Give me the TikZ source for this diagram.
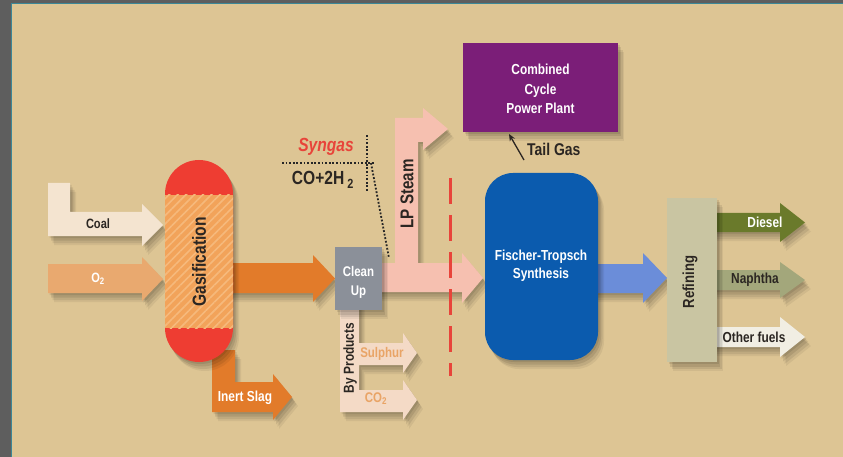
\documentclass[tikz,border=0pt]{standalone}
\usepackage{fontspec}
\setmainfont[FakeStretch=0.82]{Liberation Sans}
\usetikzlibrary{patterns.meta,arrows.meta}
\definecolor{bg}{HTML}{DDC594}
\definecolor{framegray}{HTML}{5E5E5E}
\definecolor{frameteal}{HTML}{3C8796}
\definecolor{coalc}{HTML}{F4E4D0}
\definecolor{oxc}{HTML}{E9A96F}
\definecolor{orangec}{HTML}{E27B2A}
\definecolor{redc}{HTML}{EE3D32}
\definecolor{gasorange}{HTML}{F2A35A}
\definecolor{gasstripe}{HTML}{F6B97C}
\definecolor{cleangray}{HTML}{8B9099}
\definecolor{pinkc}{HTML}{F6C0B0}
\definecolor{purplec}{HTML}{7B1E78}
\definecolor{ftblue}{HTML}{0B5BAE}
\definecolor{bluearrow}{HTML}{6B8DD9}
\definecolor{refc}{HTML}{C9C5A2}
\definecolor{dieselc}{HTML}{6A7A2B}
\definecolor{naphc}{HTML}{A3A77B}
\definecolor{otherc}{HTML}{F1EEE3}
\definecolor{byc}{HTML}{F4DAC6}
\definecolor{bytext}{HTML}{E9A466}
\definecolor{synred}{HTML}{E8443A}
\definecolor{darkt}{HTML}{2B2622}
\newcommand\shadowed[2]{%
  \fill[black,opacity=0.09,shift={(1.5,2)}] #2;
  \fill[black,opacity=0.09,shift={(3,4.5)}] #2;
  \fill[black,opacity=0.08,shift={(4.5,7)}] #2;
  \fill[black,opacity=0.06,shift={(6,9)}] #2;
  \fill[#1] #2;}
% block arrow: style, x start, head start, tip, shaft top, shaft bottom, head top, head bottom
\newcommand\blockarrow[8]{%
  \shadowed{#1}{(#2,#5) -- (#3,#5) -- (#3,#7) -- (#4,{0.5*(#7+#8)}) -- (#3,#8) -- (#3,#6) -- (#2,#6) -- cycle}}
\tikzset{
  lbl/.style={font=\bfseries\fontsize{14.5}{17.5}\selectfont, text=darkt, inner sep=0pt, align=center},
  wlbl/.style={lbl, text=white},
  dotline/.style={draw=black!85, line width=1.8pt, dash pattern=on 1.8pt off 1.8pt},
}
\begin{document}
\begin{tikzpicture}[x=1pt,y=-1pt]
\useasboundingbox (0,0) rectangle (843,457);
\fill[bg] (0,0) rectangle (843,457);
\fill[framegray] (0,0) rectangle (11,457);
\fill[framegray] (0,0) rectangle (843,3);
\draw[frameteal, line width=1pt] (11.5,457) -- (11.5,3.5) -- (843,3.5);

% ---- inputs
\shadowed{coalc}{(48,183) -- (70,183) -- (70,212) -- (142,212) -- (142,204) -- (163,225) -- (142,246) -- (142,236) -- (48,236) -- cycle}
\node[lbl, font=\bfseries\fontsize{13.5}{16}\selectfont] (coal) at (98,224) {Coal};
\blockarrow{oxc}{48}{142}{163}{264}{293}{257}{301}
\node[wlbl, font=\bfseries\fontsize{13.5}{16}\selectfont] (o2) at (98,279) {O\textsubscript{2}};

% ---- arrows from gasifier
\shadowed{orangec}{(212,350) -- (235,350) -- (235,382) -- (273,382) -- (273,374) -- (292,397) -- (273,420) -- (273,412) -- (212,412) -- cycle}
\node[wlbl] (slag) at (245,398) {Inert Slag};
\blockarrow{orangec}{225}{313}{335}{263}{293}{255}{302}

% ---- gasifier vessel
\shadowed{redc}{(165,194) arc[start angle=180,end angle=360,radius=34] -- (233,328) arc[start angle=0,end angle=180,radius=34] -- cycle}
\fill[gasorange] (165,195) rectangle (233,328);
\fill[pattern={Lines[angle=45,distance=6pt,line width=1.6pt]}, pattern color=gasstripe] (165,195) rectangle (233,328);
\node[lbl, rotate=90, font=\bfseries\fontsize{19}{22}\selectfont] (gas) at (199,262) {Gasification};

% ---- LP steam and syngas arrow
\shadowed{pinkc}{(395,266) -- (395,118) -- (423,118) -- (423,108) -- (448,129) -- (423,150) -- (423,142) -- (418,142) -- (418,266) -- cycle}
\blockarrow{pinkc}{375}{462}{483}{263}{292}{253}{303}
\node[lbl, rotate=90, font=\bfseries\fontsize{18.5}{22}\selectfont] (lp) at (407,194) {LP Steam};

% ---- by products
\shadowed{byc}{(340,300) -- (359,300) -- (359,343) -- (403,343) -- (403,333) -- (417,353) -- (403,373) -- (403,365) -- (359,365) -- (359,390) -- (403,390) -- (403,380) -- (417,400) -- (403,420) -- (403,412) -- (340,412) -- cycle}
\node[lbl, rotate=90] (byp) at (350,358) {By Products};
\node[lbl, text=bytext, font=\bfseries\fontsize{14}{16}\selectfont] (sul) at (382,354) {Sulphur};
\node[lbl, text=bytext, font=\bfseries\fontsize{14}{16}\selectfont] (co2) at (376,399) {CO\textsubscript{2}};

% ---- clean up box
\shadowed{cleangray}{(335,247) rectangle (382,310)}
\node[wlbl, font=\bfseries\fontsize{14}{19}\selectfont] (clean) at (358.5,282) {Clean\\Up};

% ---- syngas annotation
\node[lbl, text=synred, font=\bfseries\itshape\fontsize{19}{22}\selectfont] (syn) at (326,147) {Syngas};
\node[lbl, font=\bfseries\fontsize{19}{22}\selectfont] (co) at (323,180) {CO+2H\,\textsubscript{2}};
\coordinate (h1) at (282,163);
\coordinate (h2) at (374,163);
\coordinate (v1) at (367,135);
\coordinate (v2) at (367,192);
\coordinate (d1) at (371,163);
\coordinate (d2) at (389,258);
\draw[dotline] (h1) -- (h2);
\draw[dotline] (v1) -- (v2);
\draw[dotline] (d1) -- (d2);

% ---- dashed red line
\coordinate (r1) at (450,178);
\coordinate (r2) at (450,376);
\draw[synred, line width=3pt, dash pattern=on 26pt off 11pt] (r1) -- (r2);

% ---- combined cycle power plant
\shadowed{purplec}{(463,43) rectangle (618,132)}
\node[wlbl, font=\bfseries\fontsize{14.5}{19.5}\selectfont] (ccpp) at (540.5,89) {Combined\\Cycle\\Power Plant};
\node[lbl, font=\bfseries\fontsize{17}{20}\selectfont, anchor=west] (tail) at (527,149) {Tail Gas};
\coordinate (tg1) at (524,160);
\coordinate (tg2) at (509,134);
\draw[darkt, line width=1.3pt, -{Stealth[length=7pt,width=6pt]}] (tg1) -- (tg2);

% ---- blue arrow and FT vessel
\blockarrow{bluearrow}{590}{643}{667}{264}{293}{253}{303}
\shadowed{ftblue}{[rounded corners=28pt] (485,173) rectangle (598,360)}
\node[wlbl, font=\bfseries\fontsize{14.5}{18}\selectfont] (ft) at (541,266) {Fischer-Tropsch\\Synthesis};

% ---- products
\blockarrow{dieselc}{705}{780}{805}{213}{232}{203}{242}
\blockarrow{naphc}{705}{780}{805}{270}{290}{262}{298}
\blockarrow{otherc}{705}{780}{805}{327}{347}{317}{357}
\node[wlbl] (diesel) at (765,222) {Diesel};
\node[lbl] (naph) at (755,280) {Naphtha};
\node[lbl] (other) at (754,337) {Other fuels};

% ---- refining
\shadowed{refc}{(667,198) rectangle (717,362)}
\node[lbl, rotate=90, font=\bfseries\fontsize{16}{19}\selectfont] (ref) at (690,282) {Refining};
\end{tikzpicture}
\end{document}
